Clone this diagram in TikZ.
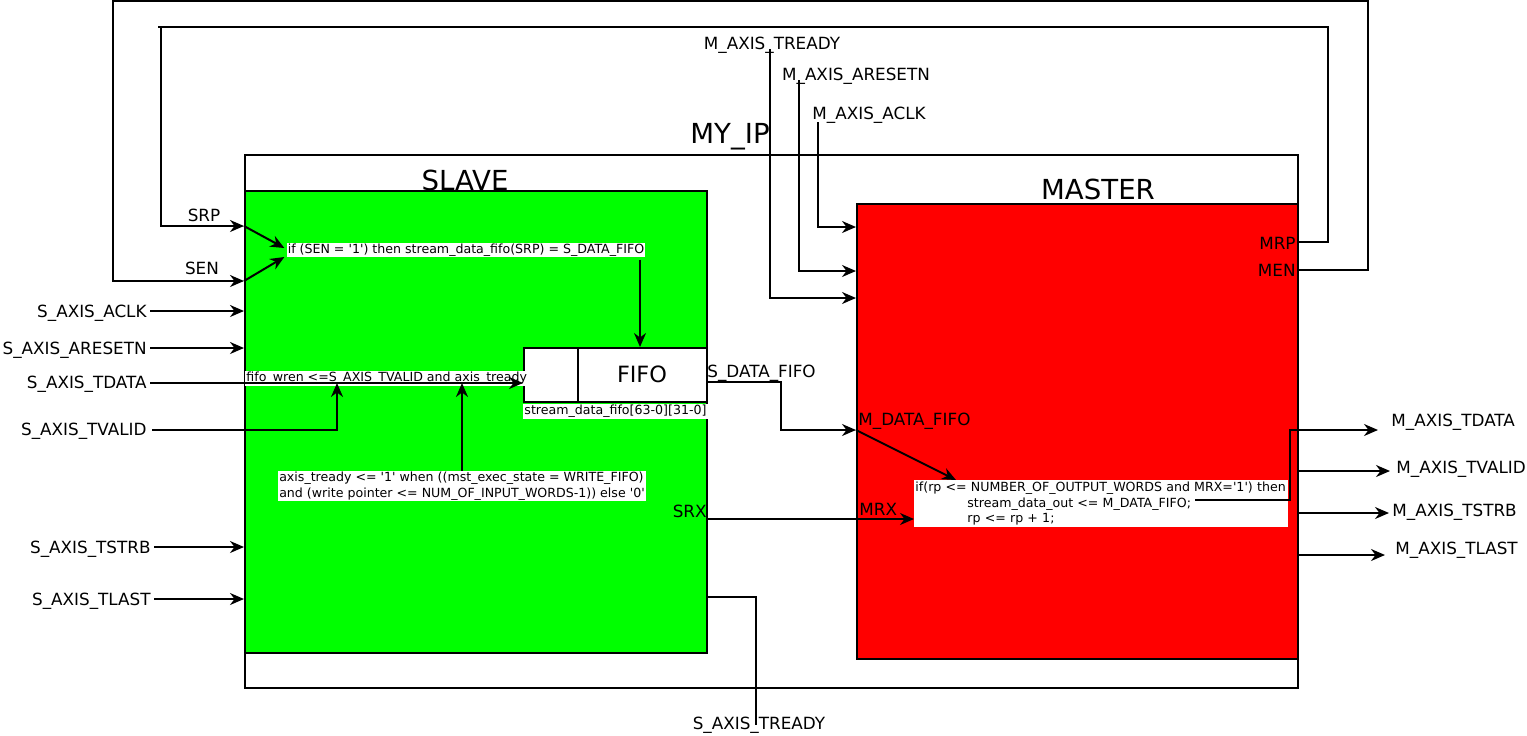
\documentclass[tikz,border=0pt]{standalone}
\usepackage{fontspec}
\setmainfont{DejaVu Sans}[Ligatures=TeXOff]
\usetikzlibrary{arrows.meta,positioning,calc}

\tikzset{
  block/.style={draw, line width=1pt, inner sep=0pt, anchor=north west},
  wire/.style={line width=1pt},
  sig/.style={line width=1pt, -{Stealth[length=7pt,width=6pt]}},
  sigtext/.style={font=\fontsize{8.4}{10}\selectfont, inner sep=1.5pt, yshift=-1pt},
  codetext/.style={font=\fontsize{6.3}{7.7}\selectfont, fill=white, inner sep=0.5pt, align=left},
  blocktitle/.style={font=\fontsize{13.8}{16}\selectfont, inner sep=0pt},
}

\begin{document}
\begin{tikzpicture}[x=0.5pt,y=-0.5pt]
  \useasboundingbox (0,0) rectangle (1527,735);
  % blocks
  \node[block, minimum width=526.5pt, minimum height=266.5pt] (myip) at (244,154) {};
  \node[block, fill=green, minimum width=231pt, minimum height=231pt] (slave) at (244,190) {};
  \node[block, fill=red, minimum width=220.5pt, minimum height=227.5pt] (master) at (856,203) {};
  \node[block, fill=white, minimum width=91.5pt, minimum height=27pt] (fifo) at (523,347) {};
  \coordinate (fifodiv) at (578,347);
  \draw[wire] (fifodiv) -- (fifodiv |- fifo.south);
  \node[font=\fontsize{11.2}{13}\selectfont] (fifolbl) at (642,374) {FIFO};
  \node[blocktitle] (myiplbl) at (730,137) {MY\_IP};
  \node[blocktitle] (slavelbl) at (465,180) {SLAVE};
  \node[blocktitle] (masterlbl) at (1098,189) {MASTER};

  % feedback loops MEN -> SEN, MRP -> SRP
  \coordinate (menpin) at (1297,270);
  \coordinate (senpin) at (244,281);
  \coordinate (mrppin) at (1297,242);
  \coordinate (srppin) at (244,226);
  \draw[sig] (menpin) -| (1368,1) -| (113,281) -- (senpin);
  \draw[sig] (mrppin) -| (1328,27) -- (158,27) (161,27) |- (srppin);
  \node[sigtext, anchor=east] (mrp) at (1299,241) {MRP};
  \node[sigtext, anchor=east] (men) at (1299,268) {MEN};
  \node[sigtext] (srp) at (204,213) {SRP};
  \node[sigtext] (sen) at (202,266) {SEN};

  % slave write logic
  \node[codetext] (ifsen) at (466,250) {if (SEN = '1') then stream\_data\_fifo(SRP) = S\_DATA\_FIFO};
  \draw[sig] (srppin) -- ($(ifsen.west)+(-2,-2)$);
  \draw[sig] (senpin) -- ($(ifsen.west)+(-2,7)$);
  \coordinate (fifoin) at (640,347);
  \draw[sig] ($(ifsen.south -| fifoin)+(0,2)$) -- (fifoin);

  % slave inputs
  \foreach \name/\y/\xs in {ACLK/311/150, ARESETN/348/150, TSTRB/547/154, TLAST/599/154}{
    \node[sigtext, anchor=east] (s\name) at (\xs,\y) {S\_AXIS\_\name};
    \draw[sig] (\xs,\y) -- (\xs,\y -| slave.west);
  }
  \node[sigtext, anchor=east] (sTDATA) at (150,382) {S\_AXIS\_TDATA};
  \node[codetext, anchor=south west] (wren) at (245,386) {fifo\_wren <=S\_AXIS\_TVALID and axis\_tready};
  \coordinate (tdatapin) at (150,383);
  \draw[sig] (tdatapin) -- (tdatapin -| fifo.west);
  \node[sigtext, anchor=east] (sTVALID) at (150,429) {S\_AXIS\_TVALID};
  \coordinate (tvalidpin) at (152,430);
  \coordinate (wrenA) at (337,383);
  \coordinate (wrenB) at (462,383);
  \draw[sig] (tvalidpin) -| (wrenA);
  \node[codetext] (treadycode) at (462,486) {axis\_tready <= '1' when ((mst\_exec\_state = WRITE\_FIFO)\\and (write pointer <= NUM\_OF\_INPUT\_WORDS-1)) else '0'};
  \draw[sig] (treadycode.north -| wrenB) -- (wrenB);
  \node[codetext, below=0.5pt of fifo] (fifomem) {stream\_data\_fifo[63-0][31-0]};

  % slave -> master
  \coordinate (fifoout) at (706,382);
  \coordinate (mdatain) at (856,430);
  \draw[sig] (fifoout) -| (781,430) -- (mdatain);
  \node[sigtext, anchor=west] (sdata) at (704,371) {S\_DATA\_FIFO};
  \node[sigtext, anchor=west] (mdata) at (855,419) {M\_DATA\_FIFO};
  \coordinate (srxpin) at (706,519);
  \node[sigtext, anchor=east] (srx) at (710,509) {SRX};
  \node[sigtext, anchor=west] (mrx) at (856,507) {MRX};

  % master read logic
  \node[codetext, anchor=north west, text width=186pt, minimum height=23.5pt] (ifrp) at (914,480) {if(rp <= NUMBER\_OF\_OUTPUT\_WORDS and MRX='1') then\\\hspace*{26pt}stream\_data\_out <= M\_DATA\_FIFO;\\\hspace*{26pt}rp <= rp + 1;};
  \draw[sig] (srxpin) -- (srxpin -| ifrp.west);
  \draw[sig] (mdatain) -- ($(ifrp.north west)+(42,0)$);

  % master inputs from the top
  \node[sigtext] (mtready) at (772,43) {M\_AXIS\_TREADY};
  \node[sigtext] (maresetn) at (856,74) {M\_AXIS\_ARESETN};
  \node[sigtext] (maclk) at (869,113) {M\_AXIS\_ACLK};
  \coordinate (mtreadytop) at (770,49);
  \coordinate (maresetntop) at (799,80);
  \coordinate (maclktop) at (818,122);
  \coordinate (mtreadyin) at (856,298);
  \coordinate (maresetnin) at (856,271);
  \coordinate (maclkin) at (856,227);
  \draw[sig] (mtreadytop) |- (mtreadyin);
  \draw[sig] (maresetntop) |- (maresetnin);
  \draw[sig] (maclktop) |- (maclkin);

  % master outputs
  \coordinate (ifrpout) at (1195,500);
  \coordinate (oTDATA) at (1378,430);
  \draw[sig] (ifrpout) -| (1290,430) -- (oTDATA);
  \node[sigtext, anchor=west] (mTDATA) at (1388,420) {M\_AXIS\_TDATA};
  \foreach \name/\y/\xe/\ly/\lx in {TVALID/471/1390/467/1393, TSTRB/513/1389/510/1389, TLAST/555/1385/548/1392}{
    \coordinate (o\name) at (\xe,\y);
    \draw[sig] (master.east |- o\name) -- (o\name);
    \node[sigtext, anchor=west] (m\name) at (\lx,\ly) {M\_AXIS\_\name};
  }

  % slave ready out
  \coordinate (streadyout) at (708,597);
  \node[sigtext] (stready) at (759,723) {S\_AXIS\_TREADY};
  \draw[wire] (streadyout) -| (756,725);
\end{tikzpicture}
\end{document}
